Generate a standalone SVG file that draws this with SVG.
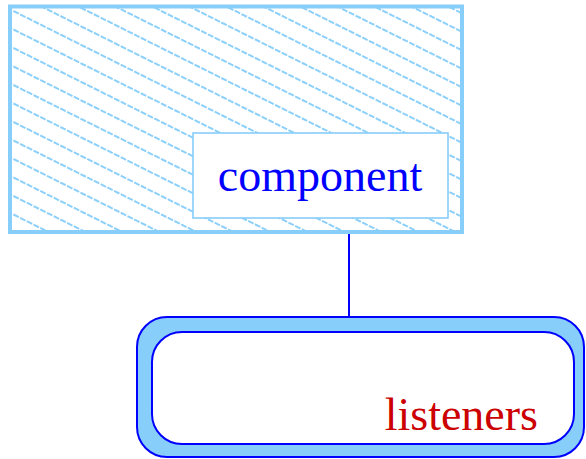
<svg xmlns="http://www.w3.org/2000/svg" width="586" height="459" viewBox="0 0 586 459">
  <style>
    .frame-bg { fill: #ffffff; }
    .frame { fill: none; stroke: #87cefa; stroke-width: 4; }
    .hatch { fill: none; stroke: #8dd0fa; stroke-width: 2; stroke-dasharray: 6 1.5; }
    .label-box { fill: #ffffff; stroke: #87cefa; stroke-width: 1.6; }
    .wire { stroke: #0000ff; stroke-width: 2; fill: none; }
    .shell { fill: #87cefa; stroke: #0000ff; stroke-width: 2; }
    .core { fill: #ffffff; stroke: #0000ff; stroke-width: 2; }
    .txt { font-family: "Liberation Serif", "Times New Roman", serif; font-size: 46px; }
  </style>
  <defs>
    <clipPath id="frame-clip">
      <rect x="10" y="6.5" width="452" height="225.5"/>
    </clipPath>
  </defs>

  <g id="connectors">
    <line class="wire" x1="349" y1="233" x2="349" y2="318"/>
  </g>

  <g id="component">
    <rect class="frame-bg" x="10" y="6.5" width="452" height="225.5"/>
    <!-- diagonal hatch, slope 1/2, 18.5px apart vertically -->
    <path class="hatch" clip-path="url(#frame-clip)" d="
      M0 -236.2 L470 -1.2  M0 -217.7 L470 17.3  M0 -199.2 L470 35.8
      M0 -180.7 L470 54.3  M0 -162.2 L470 72.8  M0 -143.7 L470 91.3
      M0 -125.2 L470 109.8 M0 -106.7 L470 128.3 M0 -88.2 L470 146.8
      M0 -69.7 L470 165.3  M0 -51.2 L470 183.8  M0 -32.7 L470 202.3
      M0 -14.2 L470 220.8  M0 4.3 L470 239.3    M0 22.8 L470 257.8
      M0 41.3 L470 276.3   M0 59.8 L470 294.8   M0 78.3 L470 313.3
      M0 96.8 L470 331.8   M0 115.3 L470 350.3  M0 133.8 L470 368.8
      M0 152.3 L470 387.3  M0 170.8 L470 405.8  M0 189.3 L470 424.3
      M0 207.8 L470 442.8  M0 226.3 L470 461.3"/>
    <rect class="frame" x="10" y="6.5" width="452" height="225.5"/>
    <rect class="label-box" x="193" y="133" width="255" height="85"/>
    <text class="txt" x="320" y="191" text-anchor="middle" fill="#0000ff">component</text>
  </g>

  <g id="listeners">
    <rect class="shell" x="137" y="317" width="447" height="140" rx="30" ry="30"/>
    <rect class="core" x="152" y="332" width="422" height="112" rx="30" ry="30"/>
    <text class="txt" x="538" y="430" text-anchor="end" fill="#cc0000">listeners</text>
  </g>
</svg>
